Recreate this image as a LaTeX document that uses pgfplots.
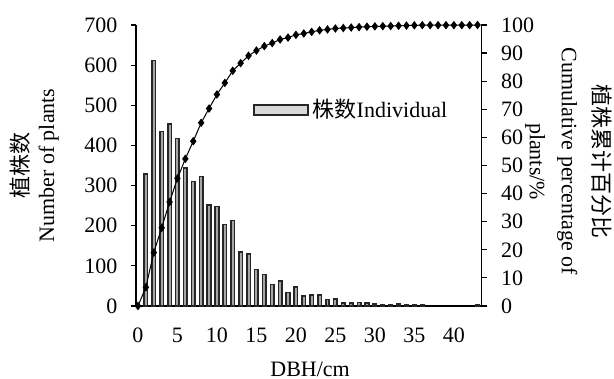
\documentclass[border=0pt]{standalone}
\usepackage{fontspec}
\setmainfont{Liberation Serif}
\newfontfamily\cjk{Noto Sans CJK SC}
\usepackage{pgfplots}
\pgfplotsset{compat=1.18}
\begin{document}
\fontsize{11bp}{13bp}\selectfont
\begin{tikzpicture}
\path[use as bounding box] (-68bp,-36.5bp) rectangle (239bp,153bp);
\begin{axis}[
 scale only axis, width=172.75bp, height=140.5bp,
 xmin=-0.25, xmax=43.5, ymin=0, ymax=700,
 axis y line*=left, axis x line*=bottom,
 axis line style={line width=0.6bp, black},
 xtick={0,5,...,40}, ytick={0,100,...,700},
 xtick style={draw=none},
 ytick style={line width=0.6bp, black},
 tick align=outside, major tick length=2.5bp,
 xticklabel style={yshift=-4.8bp},
 yticklabel style={xshift=-3bp},
 /pgf/number format/assume math mode=true,
 ylabel={{\cjk 植株数}\\Number of plants},
 ylabel style={align=center, at={(axis description cs:-0.295,0.5)}, anchor=center},
 xlabel={DBH/cm},
 xlabel style={at={(axis description cs:0.504,-0.224)}, anchor=center},
 legend style={at={(axis description cs:0.339,0.6975)}, anchor=west, draw=none, fill=none, inner sep=0pt, outer sep=0pt},
 legend image code/.code={\draw[line width=0.8bp, draw=black!85, fill=black!15] (0bp,-2.5bp) rectangle (27bp,2.5bp);},
 legend cell align=left,
]
\addplot[ybar, bar width=0.45, draw=black!85, line width=0.8bp, fill=black!35] coordinates {
(1,329) (2,612) (3,435) (4,453) (5,417) (6,344) (7,310) (8,323) (9,252) (10,248)
(11,203) (12,213) (13,135) (14,130) (15,91) (16,78) (17,54) (18,63) (19,34) (20,47)
(21,25) (22,28) (23,27) (24,16) (25,17) (26,8) (27,8) (28,9) (29,7) (30,5)
(31,3) (32,3) (33,5) (34,3) (35,4) (36,3) (43,3)
};
\addlegendentry{{\cjk 株数}Individual}
\end{axis}
\begin{axis}[
 scale only axis, width=172.75bp, height=140.5bp,
 xmin=-0.25, xmax=43.5, ymin=0, ymax=100,
 axis y line*=right, axis x line=none,
 axis line style={line width=0.6bp, black},
 ytick={0,10,...,100},
 ytick style={line width=0.6bp, black},
 tick align=outside, major tick length=3bp,
 yticklabel style={xshift=3bp},
 /pgf/number format/assume math mode=true,
 ylabel={{\cjk 植株累计百分比}\\Cumulative percentage of\\plants/\%},
 ylabel style={rotate=180, align=center, font=\fontsize{11bp}{16bp}\selectfont, at={(axis description cs:1.253,0.514)}, anchor=center},
]
\addplot[black, line width=0.5bp, mark=diamond*, mark size=1.75bp] coordinates {
(0,0) (1,6.65) (2,19.03) (3,27.83) (4,36.99) (5,45.42) (6,52.38) (7,58.64) (8,65.18) (9,70.27)
(10,75.29) (11,79.39) (12,83.70) (13,86.43) (14,89.06) (15,90.90) (16,92.48) (17,93.57) (18,94.84) (19,95.53)
(20,96.48) (21,96.99) (22,97.55) (23,98.10) (24,98.42) (25,98.77) (26,98.93) (27,99.09) (28,99.27) (29,99.41)
(30,99.51) (31,99.58) (32,99.64) (33,99.74) (34,99.80) (35,99.88) (36,99.94) (37,99.94) (38,99.94) (39,99.94)
(40,99.94) (41,99.94) (42,99.94) (43,100)
};
\end{axis}
\end{tikzpicture}
\end{document}
